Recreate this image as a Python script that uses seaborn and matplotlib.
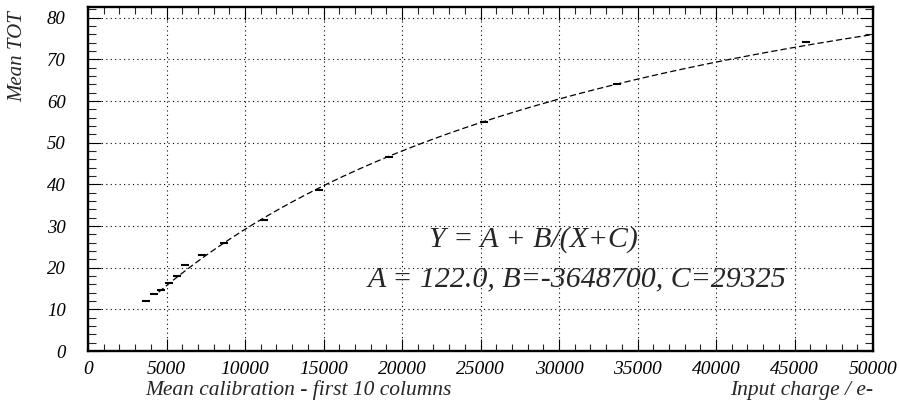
import numpy as np
import pandas as pd
import matplotlib
matplotlib.use("Agg")
import matplotlib.pyplot as plt
import seaborn as sns
from matplotlib.ticker import MultipleLocator

# Measured mean TOT per injected charge (first 10 columns)
charge = [3700, 4190, 4670, 5160, 5670, 6210, 7260, 8660, 11210, 14710, 19170, 25200, 33720, 45760]
mean_tot = [12.1, 13.8, 14.7, 16.3, 18.1, 20.6, 23.1, 25.9, 31.5, 38.7, 46.7, 55.1, 64.1, 74.2]

# Fit parameters of Y = A + B/(X+C)
A, B, C = 122.0, -3648700, 29325

x_ticks = [0, 5000, 10000, 15000, 20000, 25000, 30000, 35000, 40000, 45000, 50000]
y_ticks = [0, 10, 20, 30, 40, 50, 60, 70, 80]

sns.set_theme(style="white")
plt.rcParams["font.family"] = ["Liberation Serif", "DejaVu Serif"]
plt.rcParams["font.style"] = "italic"

fig = plt.figure(figsize=(8.99, 4.04), dpi=100)
ax = fig.add_axes([88 / 899, 1 - 351 / 404, (873 - 88) / 899, (351 - 7) / 404])

points = pd.DataFrame({"charge": charge, "tot": mean_tot})
xf = np.linspace(4500, 50000, 400)
fit = pd.DataFrame({"charge": xf, "tot": A + B / (xf + C)})

sns.lineplot(data=fit, x="charge", y="tot", ax=ax, color="black",
             linewidth=0.9, dashes=False)
ax.lines[-1].set_dashes((5, 2.5))
sns.scatterplot(data=points, x="charge", y="tot", ax=ax, marker="_",
                s=36, color="black", linewidth=1.5, zorder=5)

ax.set_xlim(0, 50000)
ax.set_ylim(0, 82.6)
ax.set_xticks(x_ticks)
ax.set_xticklabels([str(v) for v in x_ticks])
ax.set_yticks(y_ticks)
ax.set_yticklabels([str(v) for v in y_ticks])
ax.xaxis.set_minor_locator(MultipleLocator(1000))
ax.yaxis.set_minor_locator(MultipleLocator(2))

ax.grid(True, which="major", color="black", linestyle=(0, (1, 3)), linewidth=0.8)
ax.tick_params(axis="x", which="major", direction="in", length=9, width=0.8,
               top=True, bottom=True, labelsize=14, pad=7, colors="black")
ax.tick_params(axis="x", which="minor", direction="in", length=5, width=0.8,
               top=True, bottom=True)
ax.tick_params(axis="y", which="major", direction="in", length=9.5, width=0.8,
               left=True, right=True, labelsize=13.5, pad=16, colors="black")
ax.tick_params(axis="y", which="minor", direction="in", length=5.5, width=0.8,
               left=True, right=True)
for lbl in ax.get_xticklabels() + ax.get_yticklabels():
    lbl.set_fontstyle("italic")
for sp in ax.spines.values():
    sp.set_color("black")
    sp.set_linewidth(1.7)

ax.set_xlabel("")
ax.set_ylabel("")

fig.text(18 / 899, 1 - 57 / 404, "Mean TOT", rotation=90, ha="center", va="center",
         fontsize=15, fontstyle="italic")
fig.text(298 / 899, 1 - 390 / 404, "Mean calibration - first 10 columns",
         ha="center", va="center", fontsize=15.5, fontstyle="italic")
fig.text(873 / 899, 1 - 391 / 404, "Input charge / e-", ha="right", va="center",
         fontsize=15.5, fontstyle="italic")

ax.text(28400, 26.7, "Y = A + B/(X+C)", ha="center", va="center",
        fontsize=21.5, fontstyle="italic")
ax.text(31150, 17.1, f"A = {A:.1f}, B={B}, C={C}", ha="center", va="center",
        fontsize=21.5, fontstyle="italic")

fig.savefig("out.png", dpi=100, facecolor="white")
